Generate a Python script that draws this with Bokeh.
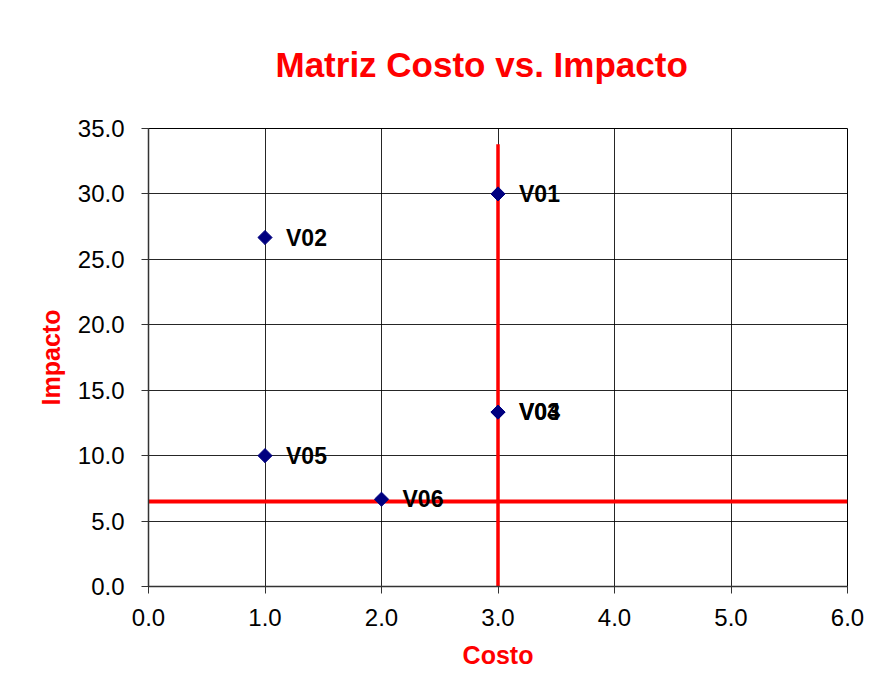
import math
from bokeh.plotting import figure
from bokeh.models import Range1d, FixedTicker, NumeralTickFormatter, ColumnDataSource
from bokeh.core.properties import value
from bokeh.embed import file_html
from bokeh.resources import INLINE

# Data
names = ["V01", "V02", "V03", "V04", "V05", "V06"]
costo = [3.0, 1.0, 3.0, 3.0, 1.0, 2.0]
impacto = [30.0, 26.67, 13.33, 13.33, 10.0, 6.67]

# threshold lines
vline_x = [3.0, 3.0]
vline_y = [-0.3, 33.8]
hline_x = [0.0, 6.0]
hline_y = [6.5, 6.5]

x_ticks = [0, 1, 2, 3, 4, 5, 6]
y_ticks = [0, 5, 10, 15, 20, 25, 30, 35]

FONT = "Liberation Sans"

p = figure(width=871, height=676, output_backend="svg", toolbar_location=None,
           x_range=Range1d(0, 6), y_range=Range1d(0, 35),
           min_border_left=148, min_border_right=24, min_border_top=128, min_border_bottom=90,
           background_fill_color="white", border_fill_color="white")

p.title.text = "Matriz Costo vs. Impacto"
p.title.text_color = "#ff0000"
p.title.text_font = FONT
p.title.text_font_size = "35px"
p.title.text_font_style = "bold"
p.title.align = "left"
p.title.offset = 127
p.title.vertical_align = "top"
p.title.standoff = 86

p.outline_line_color = "black"
p.outline_line_width = 1

for ax in (p.xaxis[0], p.yaxis[0]):
    ax.major_label_text_font = FONT
    ax.major_label_text_font_size = "24px"
    ax.major_label_text_color = "black"
    ax.axis_label_text_font = FONT
    ax.axis_label_text_font_size = "25px"
    ax.axis_label_text_font_style = "bold"
    ax.axis_label_text_color = "#ff0000"
    ax.major_tick_in = 0
    ax.major_tick_out = 7
    ax.minor_tick_in = 0
    ax.minor_tick_out = 0
    ax.axis_line_color = "#333333"
    ax.axis_line_width = 1.5
    ax.major_tick_line_color = "#333333"
    ax.formatter = NumeralTickFormatter(format="0.0")

p.xaxis[0].ticker = FixedTicker(ticks=x_ticks)
p.yaxis[0].ticker = FixedTicker(ticks=y_ticks)
p.xaxis[0].axis_label = "Costo"
p.yaxis[0].axis_label = "Impacto"
p.xaxis[0].major_label_standoff = 15
p.yaxis[0].major_label_standoff = 17
p.xaxis[0].axis_label_standoff = 12
p.yaxis[0].axis_label_standoff = 10

p.xgrid[0].ticker = FixedTicker(ticks=x_ticks)
p.ygrid[0].ticker = FixedTicker(ticks=y_ticks)
p.grid.grid_line_color = "black"
p.grid.grid_line_width = 1
p.grid.grid_line_alpha = 0.85

src = ColumnDataSource(dict(x=costo, y=impacto, name=names))

p.line(hline_x, hline_y, line_color="#ff0000", line_width=4)
p.line(vline_x, vline_y, line_color="#ff0000", line_width=3.5)

p.scatter("x", "y", source=src, marker="square", angle=math.pi / 4, size=10,
          fill_color="#000080", line_color="#000080")
p.text("x", "y", text="name", source=src, x_offset=21, text_baseline="middle",
       text_align="left", text_font=value(FONT), text_font_size="23px",
       text_font_style="bold", text_color="black")

open("out.html", "w").write(file_html(p, INLINE))
